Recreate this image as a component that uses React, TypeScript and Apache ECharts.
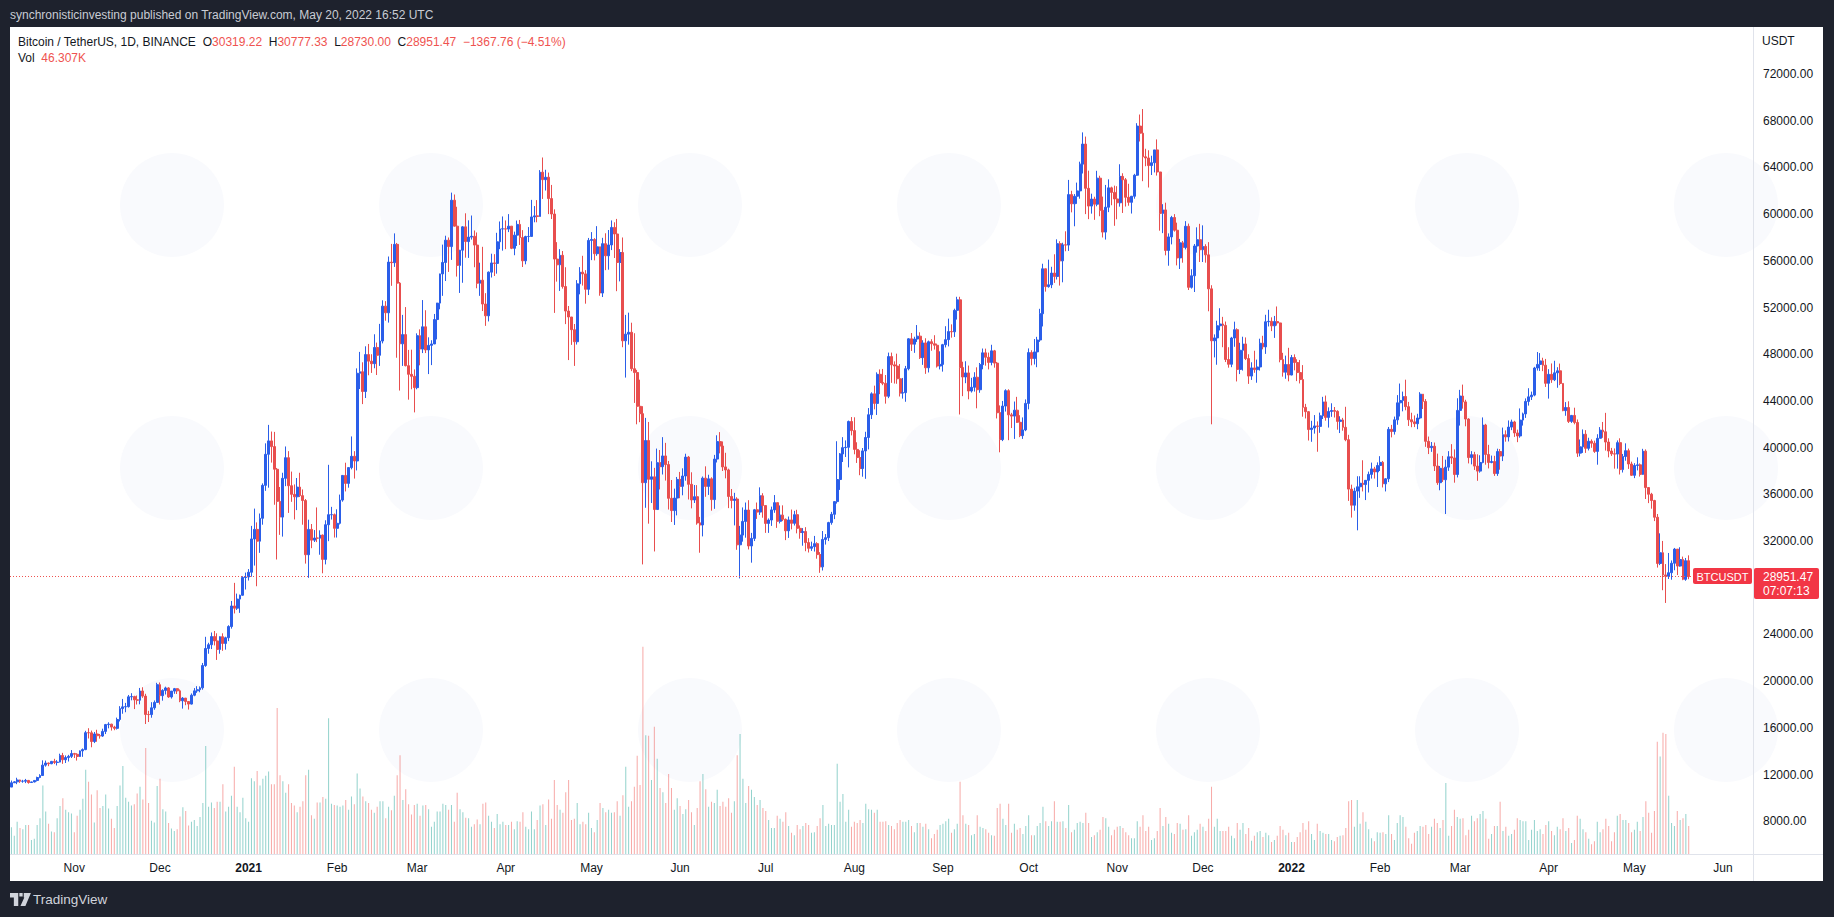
import React, { useEffect, useRef } from "react";
import * as echarts from "echarts";

// ---------- data (prices in thousands of USDT, volume in thousands of BTC) ----------
const START_DATE = "2020-10-10";
const AXIS_DAYS = 610; // daily slots shown on the time axis (data + empty right margin)
const FIRST_OPEN = 10.93;

const CLOSE: number[] = [
  // Oct 2020 (from 10th)
  11.30, 11.38, 11.54, 11.43, 11.43, 11.50, 11.32, 11.37, 11.50, 11.75, 11.92, 12.81, 12.99, 12.93, 13.13, 13.04, 13.07, 13.64, 13.27, 13.46, 13.56, 13.80,
  // Nov 2020
  13.74, 13.55, 14.03, 14.14, 15.59, 15.58, 14.83, 15.48, 15.33, 15.30, 15.70, 16.28, 16.32, 16.07, 15.96, 16.72, 17.65, 17.80, 17.82, 18.66, 18.68, 18.40, 18.37, 19.16, 18.72, 17.15, 17.14, 17.72, 18.18, 19.70,
  // Dec 2020
  18.76, 19.21, 19.42, 18.65, 19.15, 19.36, 19.17, 18.32, 18.55, 18.26, 18.04, 18.80, 19.17, 19.27, 19.43, 21.34, 22.80, 23.12, 23.82, 23.45, 22.72, 23.81, 23.23, 23.72, 24.68, 26.44, 26.25, 27.03, 27.36, 28.88, 28.92,
  // Jan 2021
  29.33, 32.18, 33.00, 31.99, 33.95, 36.77, 39.43, 40.58, 40.09, 38.15, 35.40, 34.05, 37.37, 39.14, 36.74, 36.00, 35.79, 36.62, 35.89, 35.47, 30.83, 33.00, 32.08, 32.26, 32.25, 32.51, 30.43, 33.40, 34.26, 34.26, 33.09,
  // Feb 2021
  33.52, 35.51, 37.62, 36.94, 38.29, 39.26, 38.86, 46.37, 46.50, 44.81, 47.97, 47.41, 47.19, 48.58, 47.91, 49.13, 52.12, 51.55, 55.89, 55.84, 57.41, 54.09, 48.89, 49.68, 47.02, 46.28, 46.11, 45.14,
  // Mar 2021
  49.59, 48.44, 50.35, 48.37, 48.76, 48.88, 50.97, 52.38, 54.88, 55.86, 57.77, 57.22, 61.19, 58.97, 55.61, 56.91, 58.91, 57.65, 58.03, 58.10, 57.35, 54.08, 54.34, 52.30, 51.29, 55.03, 55.82, 55.78, 57.63, 58.73, 58.74,
  // Apr 2021
  58.72, 58.97, 57.07, 58.20, 59.12, 57.99, 56.00, 58.08, 58.09, 59.76, 59.85, 59.80, 63.59, 62.95, 63.16, 61.33, 60.01, 56.15, 55.66, 56.47, 53.80, 51.70, 51.19, 50.10, 49.07, 54.03, 55.03, 54.88, 53.56, 57.75,
  // May 2021
  57.83, 56.61, 57.20, 53.24, 57.47, 56.43, 57.36, 58.86, 58.30, 55.86, 56.71, 49.15, 49.72, 49.88, 46.76, 46.43, 43.54, 42.91, 37.00, 40.61, 37.29, 37.50, 34.70, 38.71, 38.37, 39.29, 38.55, 35.66, 34.61, 35.68, 37.28,
  // Jun 2021
  36.69, 37.57, 39.19, 36.86, 35.52, 35.80, 33.55, 33.38, 37.39, 36.68, 37.33, 35.55, 39.02, 40.52, 40.14, 38.35, 38.09, 35.82, 35.48, 35.60, 31.68, 32.51, 33.68, 34.66, 31.58, 32.23, 34.68, 34.48, 35.87, 35.04,
  // Jul 2021
  33.51, 33.80, 34.67, 35.29, 33.69, 34.22, 33.86, 32.88, 33.81, 33.52, 34.26, 33.09, 32.73, 32.82, 31.87, 31.38, 31.52, 31.78, 30.84, 29.79, 32.14, 32.29, 33.58, 34.29, 35.38, 37.27, 39.46, 40.00, 40.03, 42.24, 41.46,
  // Aug 2021
  39.85, 39.15, 38.21, 39.72, 40.87, 42.82, 44.61, 43.79, 46.28, 45.58, 45.51, 44.40, 47.80, 47.09, 46.99, 45.90, 44.67, 44.71, 46.76, 49.32, 48.86, 49.30, 49.55, 47.71, 48.97, 46.84, 49.07, 48.90, 48.77, 46.99, 47.13,
  // Sep 2021
  48.82, 49.25, 49.94, 49.92, 51.76, 52.66, 46.86, 46.05, 46.40, 44.85, 45.17, 46.03, 44.96, 47.11, 48.12, 47.74, 47.30, 48.29, 47.24, 42.99, 40.69, 43.56, 44.88, 42.81, 42.70, 43.21, 42.17, 41.03, 41.52, 43.79,
  // Oct 2021
  48.14, 47.63, 48.20, 49.22, 51.47, 55.32, 53.79, 53.95, 54.95, 54.66, 57.47, 56.00, 57.37, 57.35, 61.67, 60.88, 61.53, 61.99, 64.28, 66.00, 62.21, 60.69, 61.29, 60.85, 63.08, 60.33, 58.46, 60.59, 62.25, 61.86, 61.30,
  // Nov 2021
  60.97, 63.23, 62.94, 61.44, 61.01, 61.53, 63.33, 67.54, 66.93, 64.91, 64.81, 64.16, 64.40, 65.50, 63.61, 60.06, 60.36, 56.89, 58.05, 59.71, 58.62, 56.25, 57.54, 57.14, 58.96, 53.73, 54.72, 57.27, 57.81, 56.95,
  // Dec 2021
  57.23, 56.51, 53.60, 49.15, 49.40, 50.44, 50.59, 50.47, 47.55, 47.14, 49.39, 50.10, 46.70, 48.34, 48.88, 47.63, 46.13, 46.83, 46.68, 46.91, 48.94, 48.63, 50.78, 50.82, 50.43, 50.80, 50.68, 47.54, 46.46, 47.12, 46.22,
  // Jan 2022
  47.72, 47.29, 46.43, 45.83, 43.45, 43.08, 41.55, 41.68, 41.86, 41.82, 42.73, 43.92, 42.59, 43.10, 43.18, 43.11, 42.25, 42.37, 41.74, 40.68, 36.45, 35.07, 36.28, 36.65, 36.95, 36.84, 37.20, 37.71, 38.18, 37.92, 38.47,
  // Feb 2022
  38.74, 36.90, 37.33, 41.57, 41.38, 42.38, 43.84, 44.04, 44.38, 43.51, 42.39, 42.21, 42.05, 42.54, 44.58, 43.96, 40.54, 40.00, 40.12, 38.43, 37.00, 38.23, 37.25, 38.33, 39.22, 39.12, 37.70, 43.19,
  // Mar 2022
  44.42, 43.92, 42.45, 39.15, 39.40, 38.42, 37.99, 38.73, 41.94, 39.42, 38.73, 38.81, 37.78, 39.67, 39.28, 41.11, 40.92, 41.76, 42.20, 41.26, 41.00, 42.36, 42.89, 43.96, 44.35, 44.50, 46.82, 47.13, 47.43, 47.06, 45.51,
  // Apr 2022
  46.28, 45.81, 46.41, 46.58, 45.50, 43.17, 43.44, 42.25, 42.76, 42.16, 39.53, 40.07, 41.15, 39.94, 40.55, 40.38, 39.68, 40.80, 41.50, 41.36, 40.48, 39.71, 39.47, 39.45, 40.43, 38.12, 39.24, 39.74, 38.60, 37.63,
  // May 2022 (to 20th)
  38.47, 38.53, 37.71, 39.70, 36.58, 36.01, 35.47, 34.04, 30.08, 31.00, 29.10, 28.99, 29.29, 30.10, 31.31, 29.86, 30.42, 28.72, 30.31922, 28.95147,
];

const HIGH: number[] = [
  11.49, 11.43, 11.73, 11.56, 11.55, 11.63, 11.54, 11.40, 11.49, 11.82, 12.03, 13.22, 13.20, 13.03, 13.17, 13.35, 13.24, 13.79, 13.86, 13.64, 13.69, 14.10,
  13.86, 13.83, 14.07, 14.24, 15.75, 15.97, 15.77, 15.65, 15.84, 15.48, 15.93, 16.34, 16.48, 16.35, 16.18, 16.88, 17.86, 18.48, 18.14, 18.82, 18.97, 18.75, 18.77, 19.42, 19.48, 18.92, 17.46, 18.20, 18.35, 19.86,
  19.89, 19.31, 19.53, 19.49, 19.16, 19.42, 19.40, 19.29, 18.64, 18.56, 18.28, 18.95, 19.41, 19.57, 19.55, 21.56, 23.80, 23.29, 24.17, 24.30, 24.10, 23.84, 24.10, 23.81, 24.79, 26.87, 28.42, 27.50, 27.41, 28.99, 29.30,
  29.60, 33.30, 34.78, 33.60, 34.36, 36.94, 40.37, 41.95, 41.38, 41.35, 38.26, 36.63, 37.85, 40.10, 39.70, 37.95, 36.85, 37.40, 37.85, 36.42, 35.60, 33.83, 33.46, 32.94, 34.88, 32.92, 32.56, 33.78, 38.53, 34.93, 34.36,
  34.72, 35.98, 37.66, 38.71, 38.31, 40.96, 39.70, 46.79, 48.20, 47.31, 48.68, 48.88, 48.00, 49.71, 49.00, 50.60, 52.62, 52.55, 56.37, 57.45, 58.35, 57.53, 54.18, 51.37, 52.04, 48.37, 48.39, 46.70,
  49.79, 50.13, 52.64, 51.77, 49.45, 49.20, 51.45, 52.40, 54.90, 57.39, 58.15, 58.00, 61.84, 61.68, 60.63, 56.94, 58.97, 60.07, 59.47, 59.88, 58.60, 58.43, 55.84, 57.20, 53.23, 55.09, 56.61, 56.57, 58.40, 59.37, 59.80,
  59.46, 60.00, 58.34, 58.50, 59.45, 59.50, 58.63, 58.15, 58.89, 61.22, 60.69, 61.20, 63.77, 64.85, 63.80, 63.56, 62.50, 60.41, 57.60, 57.00, 56.84, 55.45, 52.13, 51.17, 50.59, 54.35, 55.46, 56.43, 55.20, 57.96,
  58.46, 57.94, 58.97, 57.20, 57.97, 58.36, 58.64, 59.46, 59.30, 59.59, 57.00, 58.00, 51.37, 51.56, 50.70, 49.80, 46.66, 45.82, 43.55, 42.55, 42.20, 38.83, 38.27, 39.92, 39.80, 40.90, 40.41, 38.86, 37.23, 36.49, 37.49,
  37.92, 38.23, 39.48, 39.29, 37.89, 36.80, 36.79, 34.07, 37.53, 38.40, 37.68, 37.46, 39.38, 41.06, 41.33, 40.53, 39.56, 38.20, 36.46, 36.13, 35.75, 33.30, 34.88, 35.30, 35.50, 32.70, 34.75, 35.30, 36.60, 36.10,
  35.04, 33.94, 34.95, 35.94, 35.29, 35.05, 35.06, 33.93, 34.10, 34.70, 34.59, 34.68, 33.34, 33.11, 33.19, 32.25, 31.95, 32.44, 31.90, 31.05, 32.86, 32.60, 33.65, 34.50, 35.40, 40.55, 39.54, 40.90, 40.62, 42.32, 42.62,
  42.60, 40.46, 39.78, 39.97, 41.36, 43.39, 44.74, 45.31, 46.45, 46.70, 46.74, 46.22, 48.14, 48.14, 47.39, 48.05, 47.16, 45.97, 47.00, 49.38, 49.82, 49.50, 50.50, 49.88, 49.20, 49.37, 49.17, 49.29, 49.63, 48.91, 48.25,
  48.89, 50.40, 51.05, 50.56, 51.90, 52.92, 52.92, 47.36, 47.40, 47.03, 45.98, 46.46, 46.88, 47.25, 48.49, 48.48, 48.14, 48.81, 48.37, 47.34, 43.62, 44.00, 45.00, 45.00, 42.98, 43.95, 44.35, 42.78, 42.59, 44.13,
  48.50, 48.34, 49.30, 49.49, 51.89, 55.75, 55.33, 56.10, 55.49, 56.56, 57.84, 57.68, 57.55, 58.53, 62.93, 62.00, 61.72, 62.70, 64.49, 67.00, 66.64, 63.72, 61.75, 61.49, 63.71, 63.29, 61.50, 62.50, 62.98, 62.35, 62.44,
  62.39, 64.27, 63.50, 63.09, 62.60, 61.56, 63.45, 67.79, 68.53, 69.00, 65.60, 65.47, 65.00, 65.50, 66.40, 63.62, 60.85, 60.98, 58.35, 59.85, 60.00, 59.27, 57.88, 57.70, 59.40, 59.19, 55.28, 57.44, 58.87, 59.17,
  59.04, 57.42, 57.60, 53.91, 49.70, 50.87, 51.94, 51.20, 50.80, 48.60, 49.49, 50.79, 50.22, 48.98, 49.50, 49.44, 48.00, 47.31, 48.30, 47.54, 49.33, 49.58, 51.38, 51.81, 51.16, 51.28, 52.09, 50.70, 48.12, 47.88, 48.55,
  47.94, 47.99, 47.57, 47.51, 47.07, 43.75, 43.14, 42.30, 42.79, 42.25, 43.00, 44.35, 44.46, 43.45, 43.80, 43.48, 43.20, 42.69, 42.55, 43.50, 41.10, 36.83, 36.57, 37.55, 37.55, 38.92, 37.23, 37.95, 38.72, 38.36, 38.74,
  39.27, 38.86, 37.39, 41.77, 41.95, 42.66, 44.50, 45.49, 44.80, 45.82, 43.92, 42.99, 42.76, 42.90, 44.75, 44.58, 44.16, 40.95, 40.48, 40.44, 39.49, 38.43, 39.29, 38.97, 39.70, 40.30, 39.85, 44.23,
  44.95, 45.40, 44.10, 42.52, 39.70, 39.64, 39.43, 39.35, 42.59, 42.04, 40.24, 39.32, 39.30, 39.91, 39.88, 41.72, 41.48, 42.33, 42.40, 42.30, 41.54, 43.36, 43.00, 44.22, 45.09, 44.80, 46.92, 48.19, 48.10, 47.70, 47.60,
  46.72, 47.21, 47.44, 46.89, 47.20, 45.51, 43.90, 43.97, 42.80, 43.42, 42.41, 40.70, 41.56, 41.50, 40.85, 40.71, 40.60, 41.15, 41.76, 42.20, 42.98, 40.80, 39.98, 39.93, 40.62, 40.80, 39.46, 40.37, 39.92, 38.80,
  38.67, 39.17, 38.65, 39.90, 39.85, 36.62, 36.13, 35.53, 34.32, 32.66, 32.01, 30.03, 30.98, 30.34, 31.41, 31.30, 31.47, 30.67, 30.55, 30.77733,
];

const LOW: number[] = [
  10.93, 11.28, 11.18, 11.29, 11.30, 11.27, 11.22, 11.30, 11.33, 11.41, 11.69, 11.90, 12.68, 12.72, 12.89, 12.90, 12.78, 13.05, 12.92, 12.99, 13.12, 13.42,
  13.42, 13.20, 13.52, 13.52, 14.09, 15.09, 14.34, 14.70, 14.81, 15.08, 15.23, 15.47, 15.96, 15.77, 15.80, 15.86, 16.55, 17.21, 17.34, 17.74, 18.36, 17.61, 18.00, 18.02, 18.57, 16.33, 16.50, 16.87, 17.55, 18.18,
  18.00, 18.33, 18.86, 18.57, 18.51, 18.92, 18.90, 18.20, 17.65, 17.94, 17.57, 18.00, 18.71, 19.00, 19.05, 19.27, 21.23, 22.35, 22.75, 23.06, 21.82, 22.35, 22.60, 22.70, 23.43, 24.50, 25.80, 26.10, 25.85, 27.32, 27.85,
  28.62, 28.95, 29.90, 28.13, 30.99, 33.40, 36.30, 36.57, 38.72, 35.11, 30.42, 32.53, 32.38, 36.70, 34.41, 35.36, 33.85, 34.65, 35.77, 33.40, 30.07, 28.85, 31.39, 31.92, 31.91, 30.83, 29.24, 30.00, 31.99, 33.84, 32.30,
  32.30, 33.42, 35.37, 36.25, 36.57, 38.14, 37.35, 38.05, 45.02, 43.73, 44.25, 46.20, 46.40, 46.80, 46.22, 47.00, 48.93, 50.87, 50.71, 53.86, 55.48, 47.70, 44.89, 47.00, 46.96, 44.11, 45.00, 43.02,
  45.00, 47.05, 48.10, 48.10, 46.30, 47.07, 48.87, 49.27, 51.85, 53.00, 54.27, 55.05, 56.08, 58.94, 54.65, 53.25, 54.12, 56.27, 56.25, 57.82, 55.45, 53.65, 53.00, 51.70, 50.43, 50.81, 54.57, 54.70, 54.90, 57.00, 56.87,
  57.00, 58.46, 57.00, 56.48, 57.27, 57.36, 55.47, 55.70, 57.60, 58.25, 59.30, 59.30, 59.80, 61.30, 62.02, 60.00, 59.58, 51.54, 54.22, 53.42, 53.62, 50.58, 47.50, 48.80, 47.00, 48.83, 53.13, 53.88, 52.33, 53.07,
  56.06, 56.04, 56.43, 53.01, 52.90, 55.20, 55.24, 56.92, 56.24, 53.40, 54.24, 48.60, 46.00, 48.82, 46.55, 43.83, 42.00, 42.18, 30.00, 34.85, 33.49, 35.26, 31.11, 34.70, 36.42, 37.70, 37.18, 34.70, 33.63, 33.38, 34.20,
  35.67, 35.92, 37.17, 35.56, 34.80, 35.26, 33.40, 31.00, 32.40, 35.79, 35.95, 34.60, 34.76, 38.73, 39.51, 38.00, 37.37, 34.82, 34.80, 33.34, 31.25, 28.80, 31.95, 32.29, 31.28, 30.15, 32.00, 33.90, 34.24, 34.00,
  32.70, 32.70, 33.30, 34.42, 33.13, 33.51, 33.71, 32.08, 32.27, 33.00, 33.33, 32.66, 32.20, 31.60, 31.13, 31.02, 31.16, 31.10, 30.49, 29.28, 29.48, 31.70, 32.00, 33.40, 33.88, 35.21, 36.38, 38.77, 39.20, 38.31, 41.05,
  39.43, 38.69, 37.64, 37.51, 37.33, 39.85, 42.45, 43.28, 42.80, 44.58, 45.35, 43.77, 44.24, 45.55, 45.49, 45.47, 44.38, 44.20, 43.93, 46.62, 48.28, 48.12, 49.05, 47.60, 47.09, 46.32, 46.44, 48.30, 48.40, 46.86, 46.70,
  46.51, 48.58, 48.67, 49.42, 49.48, 50.97, 42.84, 44.41, 45.52, 44.14, 44.72, 44.80, 43.37, 44.70, 46.71, 47.02, 46.70, 47.05, 46.85, 42.50, 39.60, 40.56, 43.09, 40.64, 41.68, 40.75, 42.11, 40.90, 40.75, 41.41,
  43.28, 47.05, 47.12, 46.89, 49.06, 50.38, 53.36, 53.70, 53.66, 54.11, 54.40, 53.88, 54.16, 56.82, 56.85, 60.15, 58.96, 60.88, 61.32, 63.48, 60.00, 59.57, 60.04, 59.51, 60.67, 59.82, 58.00, 57.82, 60.17, 60.76, 59.00,
  59.56, 60.64, 60.10, 60.65, 60.72, 60.05, 61.32, 63.27, 66.22, 62.82, 64.10, 62.28, 63.35, 63.57, 63.30, 58.58, 58.37, 56.47, 55.58, 57.41, 58.50, 55.61, 55.30, 55.84, 56.98, 53.50, 53.62, 53.33, 56.70, 55.90,
  55.90, 55.84, 51.68, 42.00, 47.73, 47.10, 50.04, 48.60, 47.33, 46.85, 46.89, 48.64, 45.67, 46.30, 46.60, 47.50, 45.46, 45.80, 46.41, 45.56, 46.60, 48.42, 48.03, 50.38, 49.98, 49.40, 50.45, 47.31, 46.08, 45.90, 45.68,
  46.20, 46.62, 45.70, 45.50, 42.65, 42.50, 40.61, 40.50, 41.20, 39.65, 41.27, 42.45, 42.31, 41.72, 42.64, 42.58, 41.54, 41.25, 41.45, 40.55, 35.44, 34.01, 34.60, 32.92, 35.70, 36.25, 35.51, 36.16, 37.35, 37.35, 36.63,
  38.00, 36.59, 36.25, 37.05, 40.88, 41.12, 41.96, 42.67, 43.11, 43.20, 41.86, 41.75, 41.76, 41.58, 42.43, 43.31, 40.07, 39.45, 39.64, 38.00, 36.81, 36.35, 37.06, 34.32, 38.01, 38.60, 37.00, 37.45,
  41.89, 43.34, 41.83, 38.65, 38.57, 38.09, 37.16, 37.86, 38.66, 38.54, 38.22, 38.66, 37.58, 37.58, 38.11, 38.85, 40.51, 40.53, 41.50, 40.92, 40.47, 40.85, 41.89, 42.55, 43.60, 44.08, 44.40, 46.60, 46.57, 46.55, 45.20,
  44.20, 45.55, 45.70, 45.13, 45.35, 43.12, 42.73, 42.11, 42.12, 42.00, 39.20, 39.25, 39.55, 39.55, 39.76, 39.99, 39.55, 38.54, 40.82, 40.84, 39.75, 39.17, 39.29, 38.20, 38.20, 37.70, 37.87, 38.88, 38.18, 37.58,
  37.39, 38.05, 37.52, 37.67, 35.60, 35.25, 34.77, 33.71, 29.73, 29.94, 27.79, 26.70, 28.75, 28.69, 29.50, 29.09, 29.80, 28.65, 28.60, 28.73,
];

const VOLUME: number[] = [
  44, 30, 53, 43, 41, 48, 48, 23, 25, 48, 59, 113, 70, 50, 37, 36, 59, 79, 92, 73, 69, 67,
  36, 63, 73, 91, 139, 119, 98, 52, 105, 76, 79, 98, 75, 58, 43, 79, 113, 145, 93, 86, 80, 82, 100, 111, 90, 175, 84, 55, 52, 112,
  124, 74, 70, 51, 42, 38, 41, 62, 77, 71, 47, 53, 56, 46, 61, 84, 178, 78, 85, 76, 86, 86, 115, 70, 78, 96, 144, 78, 69, 93, 59,
  53, 125, 120, 137, 113, 124, 129, 136, 115, 115, 241, 130, 120, 101, 115, 84, 80, 69, 78, 87, 130, 139, 64, 58, 85, 85, 94, 91, 224, 83, 81,
  80, 78, 80, 89, 73, 95, 82, 133, 108, 95, 87, 84, 73, 68, 78, 87, 87, 59, 78, 72, 96, 130, 163, 89, 107, 82, 65, 81,
  83, 63, 80, 81, 74, 45, 53, 70, 70, 83, 81, 73, 81, 53, 101, 74, 69, 60, 59, 45, 49, 57, 49, 83, 85, 63, 53, 43, 66, 49, 53,
  48, 48, 53, 41, 54, 53, 69, 45, 41, 70, 41, 56, 80, 82, 48, 90, 58, 122, 81, 73, 68, 102, 122, 56, 58, 84, 49, 53, 49, 68,
  43, 36, 56, 84, 76, 69, 73, 68, 69, 87, 63, 97, 144, 78, 87, 111, 162, 114, 342, 196, 195, 122, 210, 157, 109, 102, 84, 132, 109, 73, 92,
  79, 66, 74, 89, 69, 48, 76, 120, 132, 107, 78, 86, 84, 106, 79, 86, 78, 92, 68, 87, 163, 198, 124, 84, 112, 106, 94, 81, 89, 76,
  71, 56, 43, 43, 63, 58, 53, 69, 46, 35, 31, 48, 41, 46, 51, 48, 35, 36, 46, 59, 81, 46, 50, 48, 48, 149, 86, 99, 53, 73, 45,
  53, 51, 56, 51, 83, 74, 73, 68, 73, 53, 53, 54, 48, 46, 41, 51, 56, 53, 53, 56, 46, 36, 51, 51, 45, 50, 41, 26, 33, 40, 48,
  50, 54, 58, 35, 41, 50, 119, 64, 50, 48, 31, 33, 64, 45, 43, 41, 35, 31, 30, 76, 83, 58, 48, 83, 35, 50, 40, 43, 33, 46,
  64, 31, 31, 46, 51, 78, 54, 46, 54, 87, 53, 53, 54, 43, 81, 36, 40, 51, 53, 51, 68, 51, 28, 31, 36, 40, 61, 59, 45, 31, 40,
  45, 46, 43, 36, 31, 26, 26, 54, 45, 64, 38, 45, 23, 26, 38, 76, 46, 61, 50, 35, 33, 51, 50, 40, 41, 64, 30, 36, 40, 50,
  45, 38, 58, 111, 45, 58, 38, 38, 38, 45, 30, 26, 51, 40, 51, 33, 43, 22, 30, 36, 38, 28, 35, 31, 20, 23, 30, 46, 40, 31, 35,
  20, 20, 28, 36, 51, 40, 54, 33, 23, 50, 38, 35, 33, 33, 23, 21, 28, 30, 31, 43, 87, 89, 45, 89, 50, 69, 53, 41, 26, 21, 36,
  35, 36, 33, 64, 33, 23, 51, 64, 61, 45, 26, 17, 35, 38, 46, 45, 48, 33, 45, 58, 51, 43, 56, 117, 30, 46, 73, 61,
  58, 59, 31, 40, 63, 54, 59, 66, 71, 58, 25, 33, 46, 46, 86, 38, 45, 30, 33, 40, 59, 56, 54, 54, 23, 40, 56, 38, 41, 33, 48,
  54, 38, 31, 45, 41, 59, 38, 43, 18, 23, 63, 58, 41, 36, 25, 16, 21, 53, 36, 41, 58, 46, 21, 36, 63, 66, 56, 56, 51, 36,
  40, 53, 38, 61, 87, 68, 35, 71, 185, 161, 200, 198, 96, 51, 46, 71, 56, 59, 66, 46.307,
];

const PRICE_MIN = 4000;
const PRICE_MAX = 76000;
const PRICE_STEP = 4000;
const PRICE_LABEL_HIDDEN = 28000; // covered by the last-price box
const VOLUME_MAX = 518;
const MONTH_NAMES = ["Jan", "Feb", "Mar", "Apr", "May", "Jun", "Jul", "Aug", "Sep", "Oct", "Nov", "Dec"];

const HEADER_TEXT = "synchronisticinvesting published on TradingView.com, May 20, 2022 16:52 UTC";
const SYMBOL_TEXT = "Bitcoin / TetherUS, 1D, BINANCE";
const LEGEND_OPEN = "30319.22";
const LEGEND_HIGH = "30777.33";
const LEGEND_LOW = "28730.00";
const LEGEND_CLOSE = "28951.47";
const LEGEND_CHANGE = "\u22121367.76 (\u22124.51%)";
const LEGEND_VOL = "46.307K";
const TICKER = "BTCUSDT";
const COUNTDOWN = "07:07:13";

// ---------- styles ----------
const FONT = "'Liberation Sans', Arial, sans-serif";
const UP = "#2a5ee9";
const DOWN = "#e84e4e";
const VOL_UP = "rgba(38,166,154,0.5)";
const VOL_DOWN = "rgba(239,83,80,0.5)";
const FRAME = "#1e222d";
const TEXT = "#131722";
const LINE = "#e0e3eb";
const RED = "#f23645";

function buildDates(): string[] {
  const [y, m, d] = START_DATE.split("-").map(Number);
  const t0 = Date.UTC(y, m - 1, d);
  const out: string[] = [];
  for (let i = 0; i < AXIS_DAYS; i++) {
    out.push(new Date(t0 + i * 86400000).toISOString().slice(0, 10));
  }
  return out;
}

function buildOption() {
  const dates = buildDates();
  const n = Math.min(CLOSE.length, HIGH.length, LOW.length, VOLUME.length);
  const candles: number[][] = [];
  const vols: any[] = [];
  for (let i = 0; i < n; i++) {
    const o = i === 0 ? FIRST_OPEN : CLOSE[i - 1];
    const c = CLOSE[i];
    const h = Math.max(HIGH[i], o, c);
    const l = Math.min(LOW[i], o, c);
    candles.push([o * 1000, c * 1000, l * 1000, h * 1000]);
    vols.push({ value: VOLUME[i], itemStyle: { color: c >= o ? VOL_UP : VOL_DOWN } });
  }
  const lastClose = CLOSE[n - 1] * 1000;

  const watermarks: any[] = [];
  const wmX = [172, 431, 690, 949, 1208, 1467, 1726];
  const wmY = [205, 468, 730];
  wmY.forEach((cy) =>
    wmX.forEach((cx) => {
      watermarks.push({ type: "circle", z: -19, shape: { cx, cy, r: 52 }, style: { fill: "#f9fafd" }, silent: true });
    })
  );

  return {
    animation: false,
    backgroundColor: FRAME,
    textStyle: { fontFamily: FONT },
    grid: [
      { left: 10, right: 81, top: 27.3, bottom: 49 },
      { left: 10, right: 81, top: 540, bottom: 63 },
    ],
    xAxis: [
      { type: "category", gridIndex: 0, data: dates, show: false, boundaryGap: true },
      {
        type: "category",
        gridIndex: 1,
        data: dates,
        boundaryGap: true,
        axisLine: { show: false },
        axisTick: { show: false },
        splitLine: { show: false },
        axisLabel: {
          interval: (_i: number, v: string) => v.endsWith("-01"),
          formatter: (v: string) => {
            const parts = v.split("-");
            return parts[1] === "01" ? `{y|${parts[0]}}` : MONTH_NAMES[Number(parts[1]) - 1];
          },
          color: TEXT,
          fontSize: 12,
          fontFamily: FONT,
          margin: 8,
          rich: { y: { fontWeight: "bold", fontSize: 12, color: TEXT, fontFamily: FONT } },
        },
      },
    ],
    yAxis: [
      {
        type: "value",
        gridIndex: 0,
        position: "right",
        min: PRICE_MIN,
        max: PRICE_MAX,
        interval: PRICE_STEP,
        axisLine: { show: false },
        axisTick: { show: false },
        splitLine: { show: false },
        axisLabel: {
          formatter: (v: number) => (v === PRICE_LABEL_HIDDEN ? "" : v.toFixed(2)),
          color: TEXT,
          fontSize: 12,
          fontFamily: FONT,
          margin: 10,
          showMinLabel: false,
          showMaxLabel: false,
        },
      },
      { type: "value", gridIndex: 1, min: 0, max: VOLUME_MAX, show: false },
    ],
    series: [
      {
        type: "bar",
        xAxisIndex: 1,
        yAxisIndex: 1,
        data: vols,
        barWidth: 1,
        large: false,
        silent: true,
        z: 1,
      },
      {
        type: "candlestick",
        xAxisIndex: 0,
        yAxisIndex: 0,
        data: candles,
        barWidth: 2.4,
        large: false,
        silent: true,
        z: 3,
        itemStyle: { color: UP, color0: DOWN, borderColor: UP, borderColor0: DOWN, borderWidth: 1 },
        markLine: {
          silent: true,
          symbol: ["none", "none"],
          label: { show: false },
          lineStyle: { color: "#ef5350", type: [1, 2], width: 1 },
          data: [{ yAxis: lastClose }],
        },
      },
    ],
    graphic: [
      { type: "rect", shape: { x: 10, y: 27, width: 1813, height: 854 }, style: { fill: "#ffffff" }, silent: true, z: -20 },
      ...watermarks,
      { type: "line", shape: { x1: 1753.5, y1: 27, x2: 1753.5, y2: 881 }, style: { stroke: LINE, lineWidth: 1 }, silent: true },
      { type: "line", shape: { x1: 10, y1: 854.5, x2: 1823, y2: 854.5 }, style: { stroke: LINE, lineWidth: 1 }, silent: true },
      {
        type: "text",
        x: 10,
        y: 14.5,
        style: { text: HEADER_TEXT, fill: "#c9ccd4", fontSize: 12, fontFamily: FONT, verticalAlign: "middle" },
        silent: true,
      },
      {
        type: "text",
        x: 18,
        y: 42,
        z: 50,
        style: {
          text: `{d|${SYMBOL_TEXT}}  {d|O}{r|${LEGEND_OPEN}}  {d|H}{r|${LEGEND_HIGH}}  {d|L}{r|${LEGEND_LOW}}  {d|C}{r|${LEGEND_CLOSE}}  {r|${LEGEND_CHANGE}}`,
          fontSize: 12,
          fontFamily: FONT,
          fill: TEXT,
          verticalAlign: "middle",
          rich: {
            d: { fill: TEXT, color: TEXT, fontSize: 12, fontFamily: FONT },
            r: { fill: "#ef5350", color: "#ef5350", fontSize: 12, fontFamily: FONT },
          },
        },
        silent: true,
      },
      {
        type: "text",
        x: 18,
        y: 58,
        z: 50,
        style: {
          text: `{d|Vol}  {r|${LEGEND_VOL}}`,
          fontSize: 12,
          fontFamily: FONT,
          fill: TEXT,
          verticalAlign: "middle",
          rich: {
            d: { fill: TEXT, color: TEXT, fontSize: 12, fontFamily: FONT },
            r: { fill: "#ef5350", color: "#ef5350", fontSize: 12, fontFamily: FONT },
          },
        },
        silent: true,
      },
      {
        type: "text",
        x: 1762,
        y: 41,
        style: { text: "USDT", fill: TEXT, fontSize: 12, fontFamily: FONT, verticalAlign: "middle" },
        silent: true,
      },
      { type: "rect", z: 100, silent: true, shape: { x: 1693, y: 568, width: 59, height: 16, r: 2 }, style: { fill: RED } },
      {
        type: "text",
        z: 101,
        silent: true,
        x: 1722.5,
        y: 576.5,
        style: { text: TICKER, fill: "#ffffff", fontSize: 11, fontFamily: FONT, align: "center", verticalAlign: "middle" },
      },
      { type: "rect", z: 100, silent: true, shape: { x: 1754, y: 568, width: 65, height: 31, r: 2 }, style: { fill: RED } },
      {
        type: "text",
        z: 101,
        silent: true,
        x: 1763,
        y: 577,
        style: { text: lastClose.toFixed(2), fill: "#ffffff", fontSize: 12, fontFamily: FONT, verticalAlign: "middle" },
      },
      {
        type: "text",
        z: 101,
        silent: true,
        x: 1763,
        y: 591,
        style: { text: COUNTDOWN, fill: "#ffffff", fontSize: 12, fontFamily: FONT, verticalAlign: "middle" },
      },
      { type: "tvlogo", silent: true, x: 10, y: 893, scaleX: 0.55, scaleY: 0.5, style: { fill: "#d1d4dc" } },
      {
        type: "text",
        silent: true,
        x: 33,
        y: 899,
        style: { text: "TradingView", fill: "#d1d4dc", fontSize: 13.5, fontFamily: FONT, verticalAlign: "middle" },
      },
    ],
  };
}

let logoRegistered = false;
function registerLogo() {
  if (logoRegistered) return;
  const d = "M0 0 H15 V26 H7 V9 H0 Z M17 0 H23 V7 H17 Z M25 0 H38 L28 26 H19 L26 9 H25 Z";
  echarts.graphic.registerShape("tvlogo", echarts.graphic.extendPath(d, {}) as any);
  logoRegistered = true;
}

export default function App() {
  const ref = useRef<HTMLDivElement>(null);
  useEffect(() => {
    if (!ref.current) return;
    registerLogo();
    const chart = echarts.init(ref.current, undefined, { renderer: "svg" });
    chart.setOption(buildOption() as any);
    return () => chart.dispose();
  }, []);
  return (
    <div
      ref={ref}
      style={{ position: "fixed", left: 0, top: 0, width: 1834, height: 917, background: FRAME }}
    />
  );
}
